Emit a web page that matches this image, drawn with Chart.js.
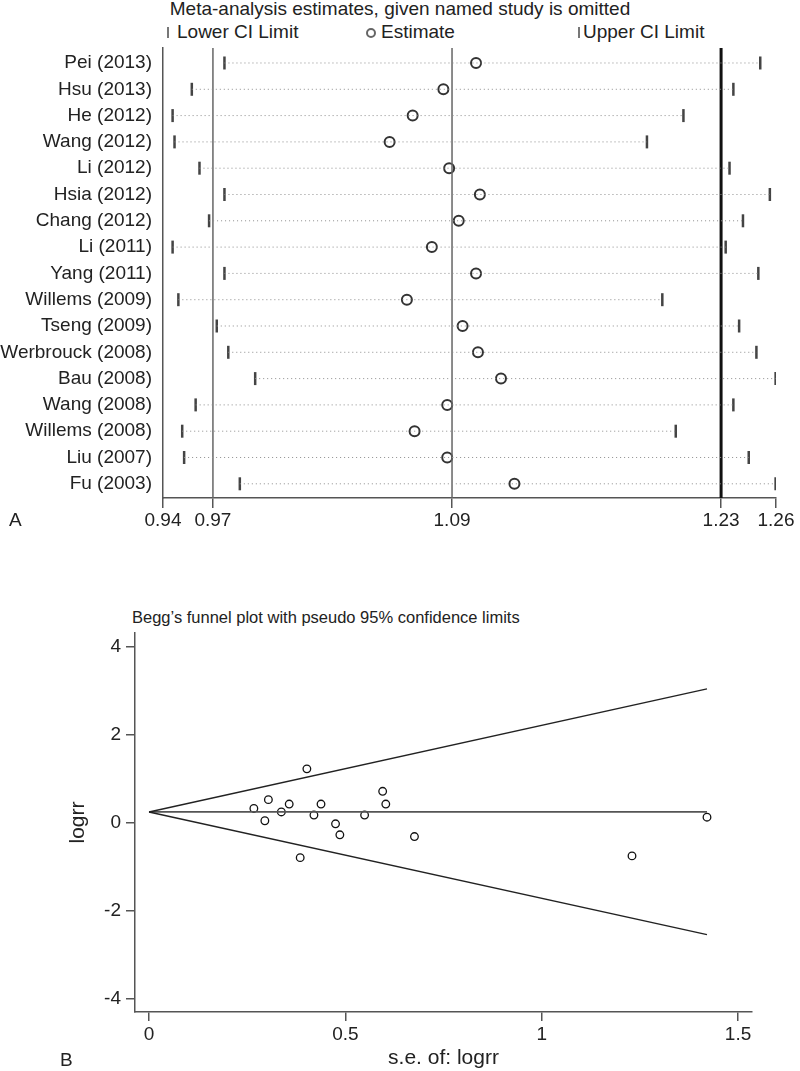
<!DOCTYPE html>
<html>
<head>
<meta charset="utf-8">
<script src="https://cdn.jsdelivr.net/npm/chart.js@4.4.1/dist/chart.umd.min.js"></script>
<style>
    body { margin: 0; background: #fff; font-family: 'Liberation Sans', Arial, sans-serif; color: #222; }
    #page { position: relative; width: 800px; height: 1071px; overflow: hidden; }
    .txt { position: absolute; font-size: 19px; line-height: 22px; white-space: nowrap; }
    .bar { position: absolute; width: 2px; height: 11px; background: #777; }
    .ring { position: absolute; width: 6px; height: 6px; border: 2px solid #666; border-radius: 50%; }
    .box { position: absolute; left: 0; width: 800px; }
</style>
</head>
<body>
<div id="page">
    <div class="txt" style="left:0; width:800px; text-align:center; top:-2px;">Meta-analysis estimates, given named study is omitted</div>
    <div class="bar" style="left:167px; top:27px;"></div>
    <div class="txt" style="left:177px; top:21px;">Lower CI Limit</div>
    <div class="ring" style="left:366px; top:28px;"></div>
    <div class="txt" style="left:381px; top:21px;">Estimate</div>
    <div class="bar" style="left:578px; top:27px;"></div>
    <div class="txt" style="left:583px; top:21px;">Upper CI Limit</div>
    <div class="box" style="top:0; height:545px;"><canvas id="sensChart"></canvas></div>
    <div class="txt" style="left:9px; top:509px;">A</div>

    <div class="txt" style="left:132px; top:607px; font-size:16.5px; line-height:20px;">Begg’s funnel plot with pseudo 95% confidence limits</div>
    <div class="box" style="top:580px; height:491px;"><canvas id="funnelChart"></canvas></div>
    <div class="txt" style="left:60px; top:1049px;">B</div>
</div>

<script>
// Panel A: estimates with each study omitted
const studies = ['Pei (2013)', 'Hsu (2013)', 'He (2012)', 'Wang (2012)', 'Li (2012)', 'Hsia (2012)',
    'Chang (2012)', 'Li (2011)', 'Yang (2011)', 'Willems (2009)', 'Tseng (2009)', 'Werbrouck (2008)',
    'Bau (2008)', 'Wang (2008)', 'Willems (2008)', 'Liu (2007)', 'Fu (2003)'];
const lowerCI = [0.972, 0.955, 0.945, 0.946, 0.959, 0.972, 0.964, 0.945, 0.972, 0.948, 0.968, 0.974,
    0.988, 0.957, 0.950, 0.951, 0.980];
const estimate = [1.103, 1.086, 1.070, 1.058, 1.089, 1.105, 1.094, 1.080, 1.103, 1.067, 1.096, 1.104,
    1.116, 1.088, 1.071, 1.088, 1.123];
const upperCI = [1.251, 1.237, 1.211, 1.192, 1.235, 1.256, 1.242, 1.233, 1.250, 1.200, 1.240, 1.249,
    1.259, 1.237, 1.207, 1.245, 1.259];
// overall lower / estimate / upper reference lines
const overallLower = 0.966;
const overallEstimate = 1.0905;
const overallUpper = 1.2306;
const sensTickValues = [0.940, 0.966, 1.0905, 1.2306, 1.2592];
const sensTickLabels = ['0.94', '0.97', '1.09', '1.23', '1.26'];

// Panel B: Begg's funnel plot
const seLogrr = [0.267, 0.304, 0.295, 0.337, 0.357, 0.385, 0.420, 0.438, 0.475, 0.486, 0.549, 0.595,
    0.603, 0.676, 0.402, 1.230, 1.421];
const logrr = [0.33, 0.53, 0.05, 0.25, 0.43, -0.79, 0.18, 0.43, -0.02, -0.27, 0.18, 0.72, 0.43, -0.31,
    1.23, -0.75, 0.13];
const pooledLogrr = 0.25;
const maxSe = 1.421;
const upperLimitEnd = 3.05;
const lowerLimitEnd = -2.54;
const funnelXTicks = [0, 0.5, 1, 1.5];
const funnelYTicks = [-4, -2, 0, 2, 4];

Chart.defaults.font.family = "'Liberation Sans', Arial, sans-serif";
Chart.defaults.color = '#222';

const ROW_TOP = -0.57;
const ROW_BOTTOM = 16.54;

// dotted line for each study from lower to upper limit
const rowLines = studies.map((s, i) => ({
    type: 'line',
    data: [{ x: lowerCI[i], y: i }, { x: upperCI[i], y: i }],
    borderColor: '#8c8c8c',
    borderWidth: 1,
    borderDash: [1, 3],
    pointRadius: 0,
}));

function refLine( value, color, width ) {
    return {
        type: 'line',
        data: [{ x: value, y: ROW_TOP }, { x: value, y: ROW_BOTTOM }],
        borderColor: color,
        borderWidth: width,
        pointRadius: 0,
    };
}

function limitMarks( values ) {
    return {
        type: 'scatter',
        data: values.map((v, i) => ({ x: v, y: i })),
        pointStyle: 'line',
        rotation: 90,
        pointRadius: 6.5,
        borderWidth: 2.5,
        borderColor: '#444',
        pointBorderColor: '#444',
    };
}

new Chart(document.getElementById('sensChart'), {
    type: 'scatter',
    data: {
        datasets: [
            ...rowLines,
            refLine(overallLower, '#666', 1.5),
            refLine(overallEstimate, '#666', 1.5),
            refLine(overallUpper, '#111', 3),
            limitMarks(lowerCI),
            limitMarks(upperCI),
            {
                type: 'scatter',
                data: estimate.map((v, i) => ({ x: v, y: i })),
                pointStyle: 'circle',
                pointRadius: 5,
                borderWidth: 2,
                borderColor: '#333',
                pointBorderColor: '#333',
                backgroundColor: 'rgba(255,255,255,0)',
            },
        ],
    },
    options: {
        responsive: true,
        maintainAspectRatio: false,
        animation: false,
        layout: { padding: { top: 48, right: 24, left: 0, bottom: 0 } },
        plugins: { legend: { display: false }, tooltip: { enabled: false } },
        scales: {
            x: {
                type: 'linear',
                min: 0.940,
                max: 1.2592,
                afterBuildTicks: (axis) => { axis.ticks = sensTickValues.map(v => ({ value: v })); },
                afterFit: (axis) => { axis.height = 47; },
                ticks: {
                    callback: (v, idx) => sensTickLabels[idx],
                    font: { size: 19 },
                    padding: 1,
                    autoSkip: false,
                    maxRotation: 0,
                },
                grid: { drawOnChartArea: false, tickLength: 10, color: '#555', lineWidth: 1.5 },
                border: { color: '#555', width: 1.5 },
            },
            y: {
                type: 'linear',
                reverse: true,
                min: ROW_TOP,
                max: ROW_BOTTOM,
                afterBuildTicks: (axis) => { axis.ticks = studies.map((s, i) => ({ value: i })); },
                afterFit: (axis) => { axis.width = 163; },
                ticks: {
                    callback: (v) => studies[v],
                    font: { size: 19 },
                    padding: 11,
                    autoSkip: false,
                },
                grid: { drawOnChartArea: false, drawTicks: false },
                border: { color: '#555', width: 1.5 },
            },
        },
    },
});

new Chart(document.getElementById('funnelChart'), {
    type: 'scatter',
    data: {
        datasets: [
            {
                type: 'line',
                data: [{ x: 0, y: pooledLogrr }, { x: maxSe, y: upperLimitEnd }],
                borderColor: '#222',
                borderWidth: 1.4,
                pointRadius: 0,
            },
            {
                type: 'line',
                data: [{ x: 0, y: pooledLogrr }, { x: maxSe, y: lowerLimitEnd }],
                borderColor: '#222',
                borderWidth: 1.4,
                pointRadius: 0,
            },
            {
                type: 'line',
                data: [{ x: 0, y: pooledLogrr }, { x: maxSe, y: pooledLogrr }],
                borderColor: '#555',
                borderWidth: 1.8,
                pointRadius: 0,
            },
            {
                type: 'scatter',
                data: seLogrr.map((se, i) => ({ x: se, y: logrr[i] })),
                pointStyle: 'circle',
                pointRadius: 3.8,
                borderWidth: 1.3,
                borderColor: '#111',
                pointBorderColor: '#111',
                backgroundColor: '#fff',
            },
        ],
    },
    options: {
        responsive: true,
        maintainAspectRatio: false,
        animation: false,
        layout: { padding: { top: 53, right: 48, left: 0, bottom: 0 } },
        plugins: { legend: { display: false }, tooltip: { enabled: false } },
        scales: {
            x: {
                type: 'linear',
                min: -0.0357,
                max: 1.5356,
                afterBuildTicks: (axis) => { axis.ticks = funnelXTicks.map(v => ({ value: v })); },
                afterFit: (axis) => { axis.height = 59; },
                ticks: {
                    callback: (v) => String(v),
                    font: { size: 19 },
                    padding: 2,
                    autoSkip: false,
                    maxRotation: 0,
                },
                grid: { drawOnChartArea: false, tickLength: 9, color: '#555', lineWidth: 1.5 },
                border: { color: '#555', width: 1.5 },
                title: { display: true, text: 's.e. of: logrr', font: { size: 21 }, padding: 0 },
            },
            y: {
                type: 'linear',
                min: -4.3,
                max: 4.32,
                afterBuildTicks: (axis) => { axis.ticks = funnelYTicks.map(v => ({ value: v })); },
                afterFit: (axis) => { axis.width = 135; },
                ticks: { callback: (v) => String(v), font: { size: 19 }, padding: 5, autoSkip: false },
                grid: { drawOnChartArea: false, tickLength: 9, color: '#555', lineWidth: 1.5 },
                border: { color: '#555', width: 1.5 },
                title: { display: true, text: 'logrr', font: { size: 21 }, padding: { top: 66, bottom: 0 } },
            },
        },
    },
});
</script>
</body>
</html>
